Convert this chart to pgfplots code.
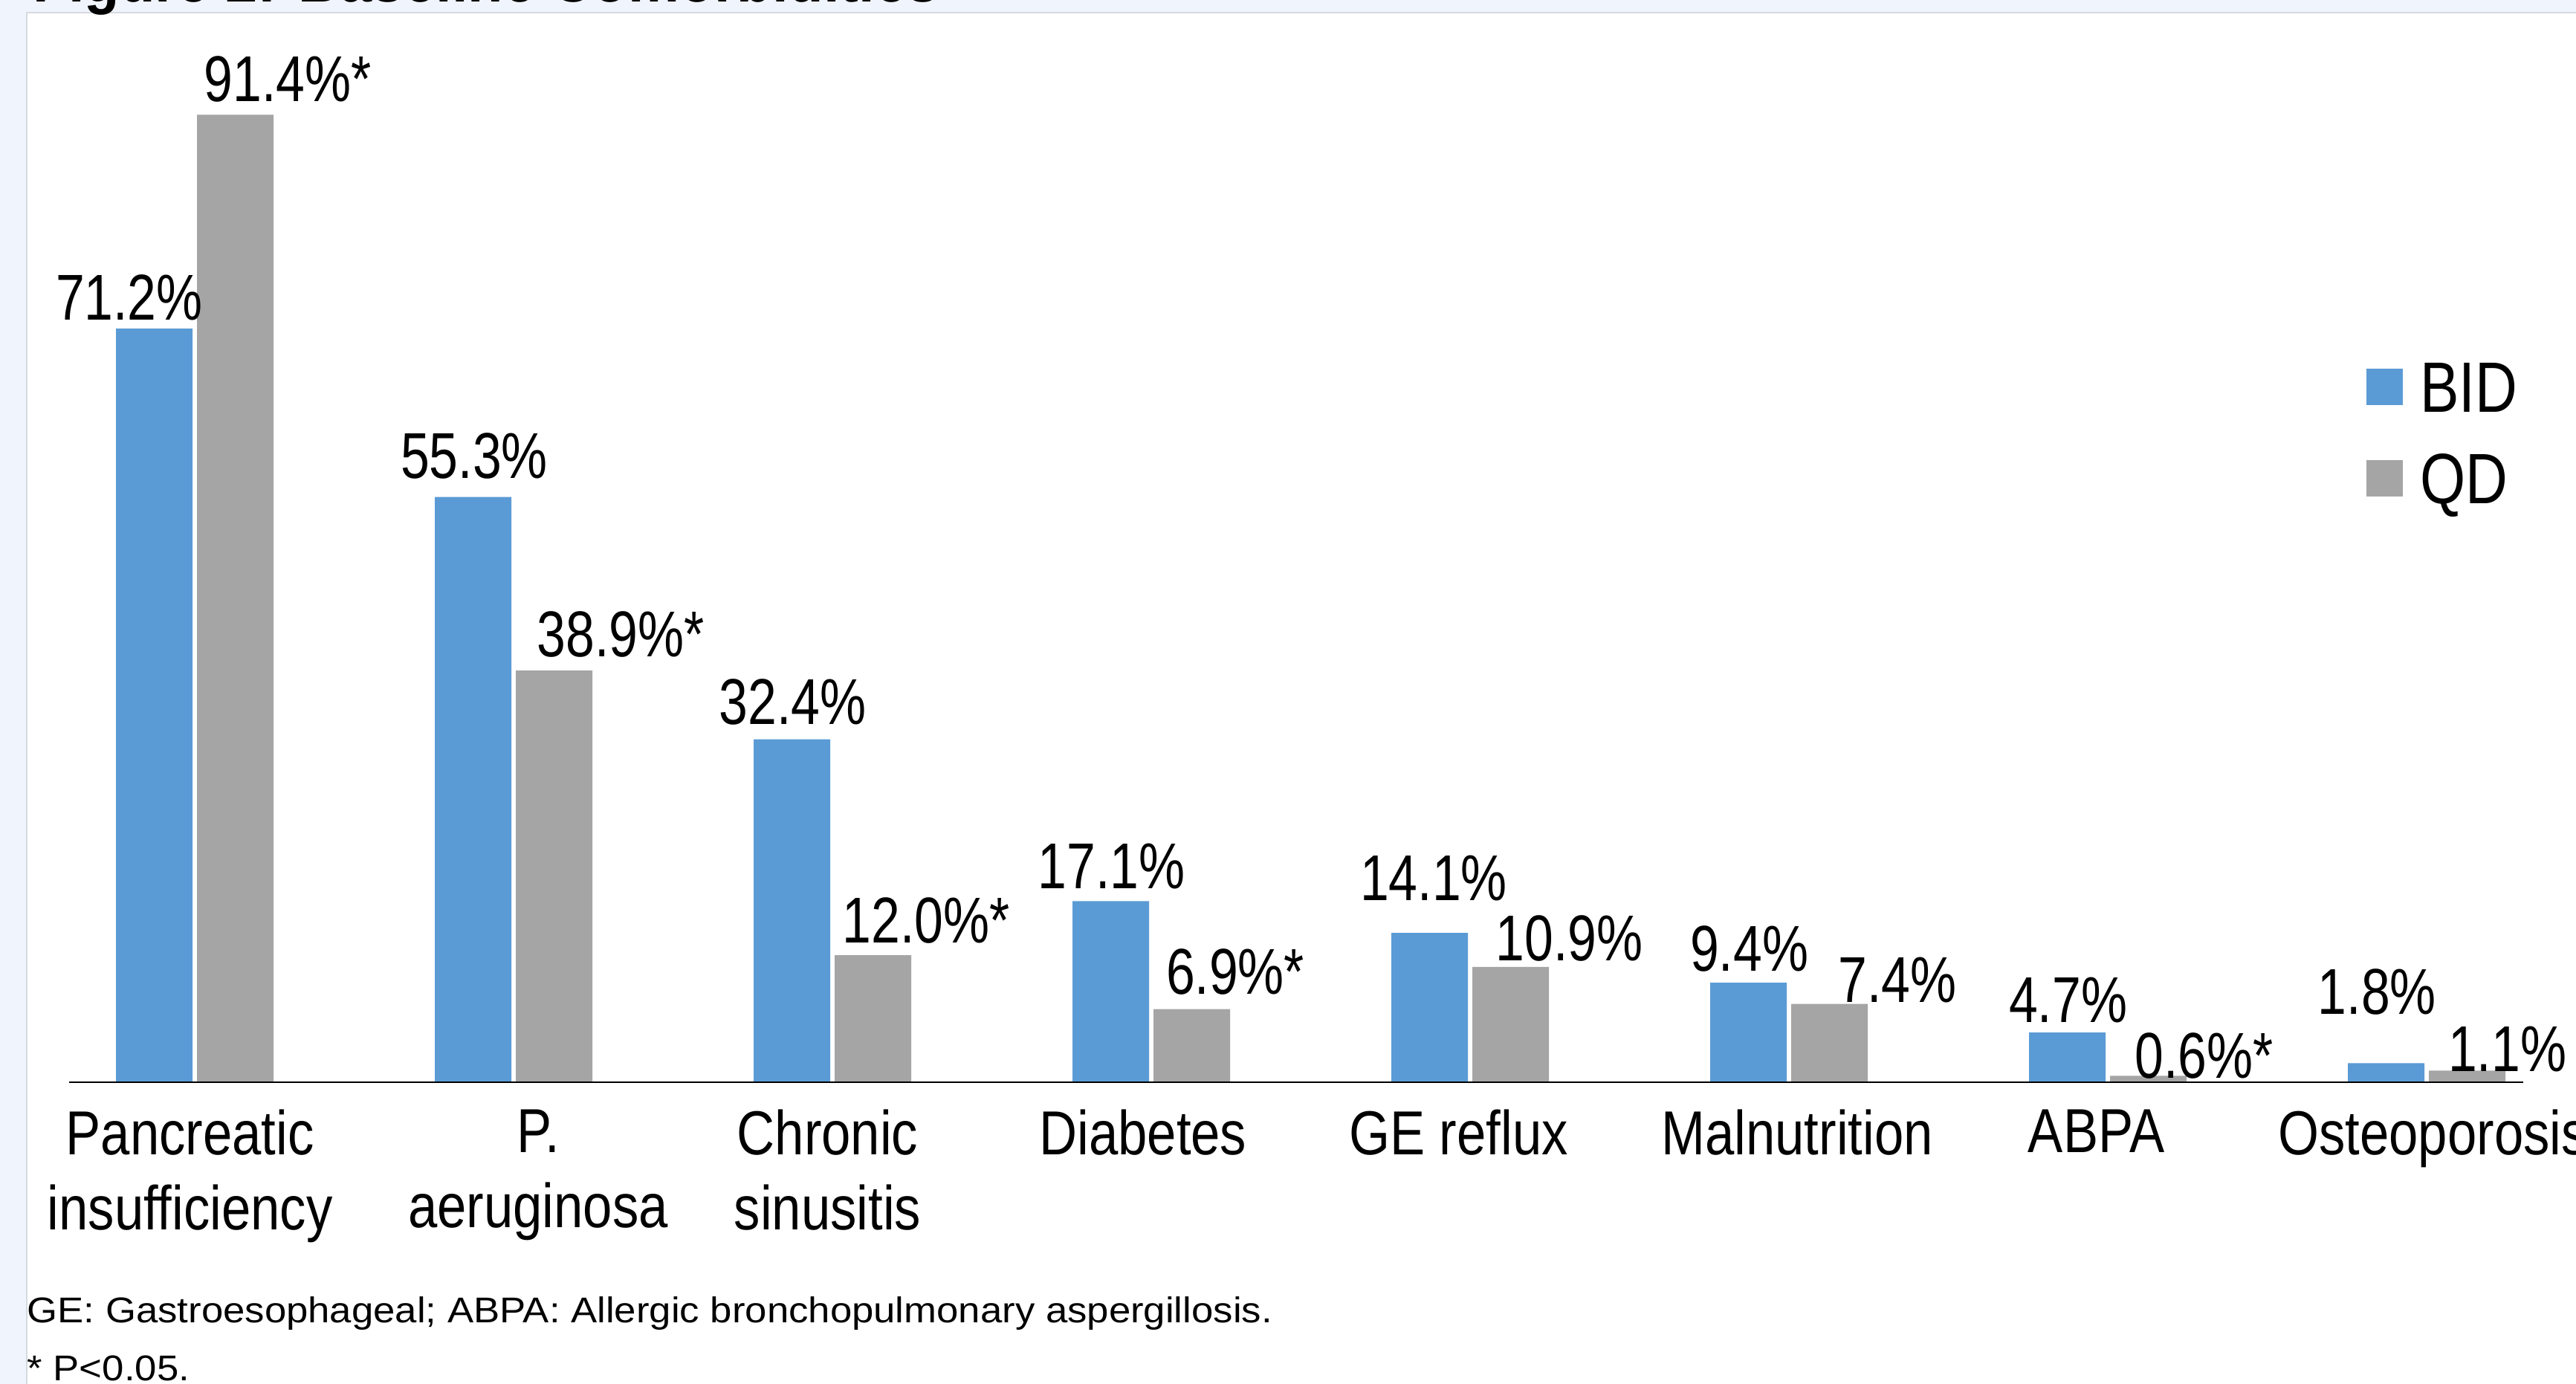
\documentclass[border=0pt]{standalone}
\usepackage{fontspec}
\setmainfont{Liberation Sans}
\newfontfamily\datfont{Liberation Sans}[FakeStretch=0.80]
\newfontfamily\catfont{Liberation Sans}[FakeStretch=0.845]
\newfontfamily\legfont{Liberation Sans}[FakeStretch=0.82]
\newfontfamily\titfont{Liberation Sans}[FakeStretch=0.92]
\newfontfamily\notefont{Liberation Sans}[FakeStretch=1.095]
\usepackage{pgfplots}
\usepackage{pgfplotstable}
\pgfplotsset{compat=1.18}
\definecolor{bidc}{HTML}{5B9BD5}
\definecolor{qdc}{HTML}{A5A5A5}
\definecolor{bgc}{HTML}{F0F4FC}
\definecolor{brd}{HTML}{D6D9DE}

\pgfplotstableread{
x y dx dy star
0 71.2 -15.2 5.1 0
1 55.3 0.7 11.5 0
2 32.4 0.5 9.0 0
3 17.1 0.5 7.5 0
4 14.1 2.5 19.8 0
5 9.4 0.5 7.1 0
6 4.7 0.5 6.3 0
7 1.8 -5.5 30.0 0
}\bidtab

\pgfplotstableread{
x y dx dy star
0 91.4 32.0 8.0 1
1 38.9 40.5 8.5 1
2 12.0 32.5 7.3 1
3 6.9 26.5 9.2 1
4 10.9 35.8 3.6 0
5 7.4 41.5 0.9 0
6 0.6 34.0 -1.3 1
7 1.1 24.5 -0.5 0
}\qdtab

\begin{document}
\begin{tikzpicture}
\fill[bgc] (0,0) rectangle (34.66,18.62);
\fill[white] (0.36,0) rectangle (34.66,18.45);
\draw[brd, line width=0.6pt] (0.36,0) -- (0.36,18.45) -- (34.7,18.45);
\node[anchor=base west, inner sep=0pt, font=\titfont\bfseries\fontsize{24}{28}\selectfont] at (0.44,18.59) {Figure 2: Baseline Comorbidities};
\node[anchor=base west, inner sep=0pt, font=\notefont\fontsize{13.7}{22.2}\selectfont] at (0.36,0.827) {GE: Gastroesophageal; ABPA: Allergic bronchopulmonary aspergillosis.};
\node[anchor=base west, inner sep=0pt, font=\notefont\fontsize{13.7}{22.2}\selectfont] at (0.36,0.047) {* P<0.05.};
\begin{axis}[
  at={(0.93cm,4.06cm)}, anchor=south west,
  scale only axis, width=33.02cm, height=14.24cm,
  xmin=-0.394, xmax=7.303, ymin=0, ymax=100,
  ybar=0.06cm, bar width=1.03cm,
  axis x line=bottom, axis y line=none,
  axis line style={-, black, line width=0.6pt},
  axis on top, clip=false,
  xtick={-0.015,1.077,1.985,2.974,3.964,5.026,5.964,7.02},
  xticklabels={{Pancreatic\\insufficiency},{P.\\aeruginosa},{Chronic\\sinusitis},Diabetes,GE reflux,Malnutrition,ABPA,Osteoporosis},
  xticklabel style={align=center, font=\catfont\fontsize{23.8}{28.94}\selectfont, inner sep=0pt, anchor=north, yshift=-0.358cm},
  major tick length=0pt, tick style={draw=none},
  point meta=y,
  nodes near coords={\pgfmathprintnumber[fixed,fixed zerofill,precision=1,assume math mode=true]{\pgfplotspointmeta}\%\ifdim\mystar pt>0.5pt *\fi},
  visualization depends on={\thisrow{dx}\as\mydx},
  visualization depends on={\thisrow{dy}\as\mydy},
  visualization depends on={\thisrow{star}\as\mystar},
  every node near coord/.append style={font=\datfont\fontsize{24.8}{28}\selectfont, black, anchor=base, inner sep=0pt, xshift=\mydx*0.221mm, yshift=\mydy*0.221mm},
  legend cell align=left,
  legend image code/.code={\fill[#1] (0cm,-0.245cm) rectangle (0.49cm,0.245cm);},
  legend style={at={(0.9361,0.6808)}, anchor=north west, draw=none, fill=none, inner sep=0pt, outer sep=0pt, row sep=0.55cm, column sep=0.235cm, font=\legfont\fontsize{27.3}{30}\selectfont, nodes={inner sep=0pt, text height=0.68cm, text depth=0pt}},
]
\addplot[fill=bidc, draw=none] table[x=x, y=y] {\bidtab};
\addplot[fill=qdc, draw=none] table[x=x, y=y] {\qdtab};
\legend{BID,QD}
\end{axis}
\pgfresetboundingbox
\path[use as bounding box] (0,0) rectangle (34.66,18.62);
\end{tikzpicture}
\end{document}
